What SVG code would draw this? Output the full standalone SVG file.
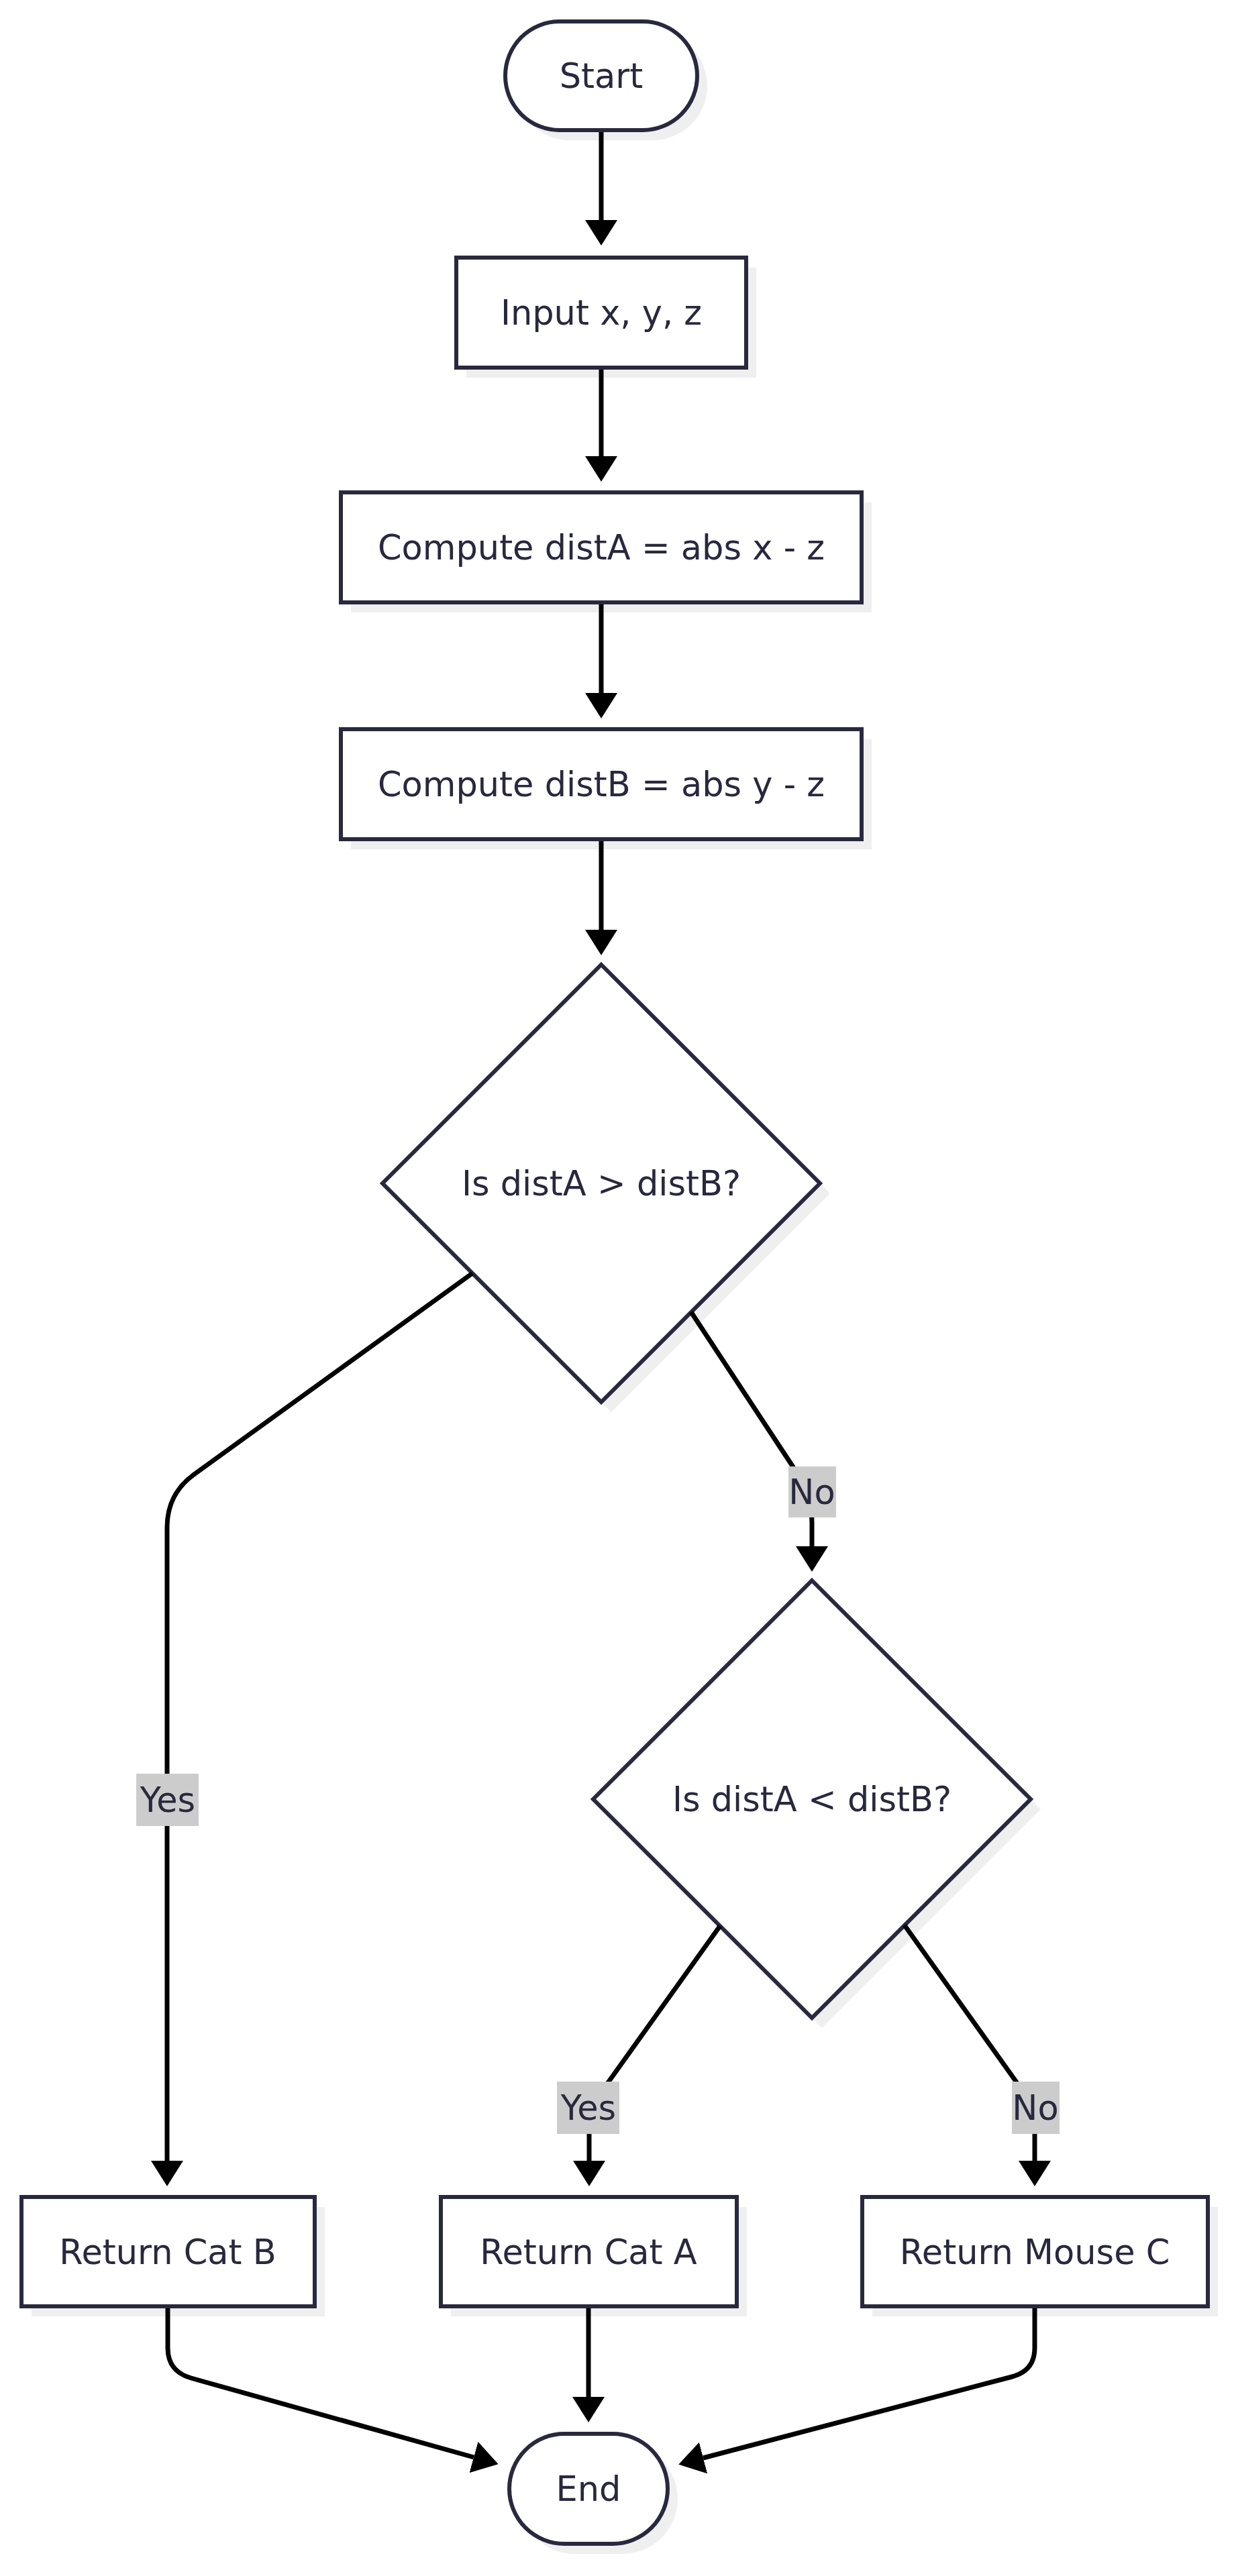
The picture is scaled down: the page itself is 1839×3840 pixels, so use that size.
<svg xmlns="http://www.w3.org/2000/svg" width="1839" height="3840" viewBox="0 0 1839 3840">
<defs>
<style>
.bg{fill:#ffffff}
.sh{fill:#efefef;stroke:none}
.nd{fill:#ffffff;stroke:#28283e;stroke-width:6}
.tx{font-family:"DejaVu Sans",sans-serif;font-size:51px;fill:#28283e;text-anchor:middle}
.ed{fill:none;stroke:#000000;stroke-width:7}
.lb{fill:#cccccc}
</style>
<marker id="ah" markerUnits="userSpaceOnUse" markerWidth="40" markerHeight="48" refX="0" refY="24" orient="auto" viewBox="0 0 40 48">
<path d="M0,0 L38,24 L0,48 Z" fill="#000000"/>
</marker>
</defs>
<rect class="bg" x="0" y="0" width="1839" height="3840"/>
<g id="shadows">
<rect class="sh" x="768" y="47" width="286" height="162" rx="81"/>
<rect class="sh" x="695" y="399" width="432" height="164"/>
<rect class="sh" x="523" y="749" width="776" height="164"/>
<rect class="sh" x="523" y="1102" width="776" height="164"/>
<polygon class="sh" points="911,1453 1237,1779 911,2105 585,1779"/>
<polygon class="sh" points="1225,2371 1551,2697 1225,3023 899,2697"/>
<rect class="sh" x="47" y="3290" width="437" height="163"/>
<rect class="sh" x="672" y="3290" width="441" height="163"/>
<rect class="sh" x="1300" y="3290" width="515" height="163"/>
<rect class="sh" x="774" y="3643" width="236" height="164" rx="82"/>
</g>
<g id="start">
<rect class="nd" x="753" y="32" width="286" height="162" rx="81"/>
<text class="tx" x="896" y="131">Start</text>
</g>
<g id="input">
<rect class="nd" x="680" y="384" width="432" height="164"/>
<text class="tx" x="896" y="484">Input x, y, z</text>
</g>
<g id="distA">
<rect class="nd" x="508" y="734" width="776" height="164"/>
<text class="tx" x="896" y="834">Compute distA = abs x - z</text>
</g>
<g id="distB">
<rect class="nd" x="508" y="1087" width="776" height="164"/>
<text class="tx" x="896" y="1187">Compute distB = abs y - z</text>
</g>
<g id="decision1">
<polygon class="nd" points="896,1438 1222,1764 896,2090 570,1764"/>
<text class="tx" x="896" y="1782">Is distA &gt; distB?</text>
</g>
<g id="decision2">
<polygon class="nd" points="1210,2356 1536,2682 1210,3008 884,2682"/>
<text class="tx" x="1210" y="2700">Is distA &lt; distB?</text>
</g>
<g id="catB">
<rect class="nd" x="32" y="3275" width="437" height="163"/>
<text class="tx" x="250" y="3375">Return Cat B</text>
</g>
<g id="catA">
<rect class="nd" x="657" y="3275" width="441" height="163"/>
<text class="tx" x="877" y="3375">Return Cat A</text>
</g>
<g id="mouseC">
<rect class="nd" x="1285" y="3275" width="515" height="163"/>
<text class="tx" x="1542" y="3375">Return Mouse C</text>
</g>
<g id="end">
<rect class="nd" x="759" y="3628" width="236" height="164" rx="82"/>
<text class="tx" x="877" y="3728">End</text>
</g>
<g id="edges">
<path class="ed" d="M896,197 L896,328" marker-end="url(#ah)"/>
<path class="ed" d="M896,551 L896,680" marker-end="url(#ah)"/>
<path class="ed" d="M896,901 L896,1033" marker-end="url(#ah)"/>
<path class="ed" d="M896,1254 L896,1386" marker-end="url(#ah)"/>
<path class="ed" d="M704,1898 L289,2198 Q249,2227 249,2277 L249,3221" marker-end="url(#ah)"/>
<path class="ed" d="M1030,1956 L1188,2196 Q1210,2230 1210,2270 L1210,2305" marker-end="url(#ah)"/>
<path class="ed" d="M1073,2871 L895,3120 Q878,3144 878,3175 L878,3221" marker-end="url(#ah)"/>
<path class="ed" d="M1348,2870 L1525,3118 Q1542,3142 1542,3175 L1542,3221" marker-end="url(#ah)"/>
<path class="ed" d="M877,3441 L877,3573" marker-end="url(#ah)"/>
<path class="ed" d="M250,3441 L250,3500 Q250,3535 285,3545 L706,3663" marker-end="url(#ah)"/>
<path class="ed" d="M1542,3441 L1542,3500 Q1542,3534 1508,3543 L1048,3664" marker-end="url(#ah)"/>
</g>
<g id="edge-labels">
<g id="label-d1-yes"><rect class="lb" x="203" y="2644" width="93" height="78"/><text class="tx" x="250" y="2701">Yes</text></g>
<g id="label-d1-no"><rect class="lb" x="1175" y="2186" width="71" height="76"/><text class="tx" x="1210" y="2242">No</text></g>
<g id="label-d2-yes"><rect class="lb" x="830" y="3103" width="93" height="78"/><text class="tx" x="877" y="3160">Yes</text></g>
<g id="label-d2-no"><rect class="lb" x="1508" y="3103" width="71" height="78"/><text class="tx" x="1543" y="3160">No</text></g>
</g>
</svg>
